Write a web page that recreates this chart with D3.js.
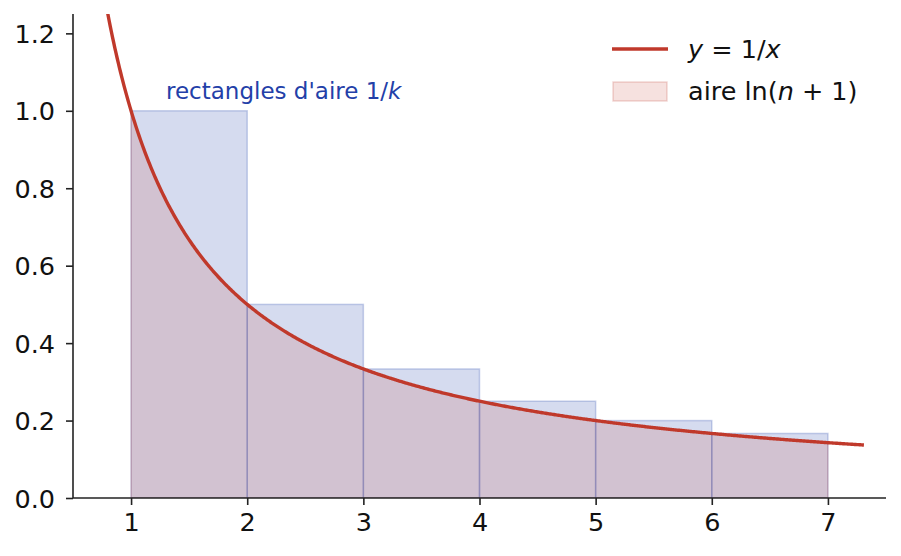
<!DOCTYPE html>
<html>
<head>
<meta charset="utf-8">
<script src="https://cdn.jsdelivr.net/npm/d3@7"></script>
<style>
  body { margin: 0; background: #fff; }
  svg text { font-family: "DejaVu Sans", sans-serif; }
  .domain, .tick line { stroke: #222; stroke-width: 1.6px; }
</style>
</head>
<body>
<svg width="901" height="556"></svg>
<script>
// bars: k = 1..6, height 1/k
const ks = [1, 2, 3, 4, 5, 6];
const heights = [1, 0.5, 0.3333, 0.25, 0.2, 0.1667];
const xTicks = [1, 2, 3, 4, 5, 6, 7];
const yTicks = [0, 0.2, 0.4, 0.6, 0.8, 1.0, 1.2];
// curve y = 1/x sampled
const curveX = d3.range(0.75, 7.3101, 0.01);
const areaX = d3.range(1, 7.0001, 0.01);

const blue = "#2d4baf", red = "#c0392b";

const margin = {left: 73, top: 14, right: 15, bottom: 58};
const svg = d3.select("svg");
const W = 901, H = 556;

const x = d3.scaleLinear().domain([0.5, 7.5]).range([margin.left, W - margin.right]);
const y = d3.scaleLinear().domain([0, 1.25]).range([H - margin.bottom, margin.top]);

svg.append("clipPath").attr("id", "clip")
  .append("rect")
    .attr("x", margin.left).attr("y", margin.top)
    .attr("width", W - margin.left - margin.right)
    .attr("height", H - margin.top - margin.bottom);

const plot = svg.append("g").attr("clip-path", "url(#clip)");

// rectangles of area 1/k
plot.selectAll("rect.bar").data(ks).enter().append("rect")
    .attr("class", "bar")
    .attr("x", d => x(d))
    .attr("y", (d, i) => y(heights[i]))
    .attr("width", d => x(d + 1) - x(d))
    .attr("height", (d, i) => y(0) - y(heights[i]))
    .attr("fill", blue).attr("fill-opacity", 0.2)
    .attr("stroke", blue).attr("stroke-opacity", 0.25).attr("stroke-width", 1.5);

// area under curve
plot.append("path")
    .datum(areaX)
    .attr("d", d3.area().x(d => x(d)).y0(y(0)).y1(d => y(1 / d)))
    .attr("fill", red).attr("fill-opacity", 0.15)
    .attr("stroke", red).attr("stroke-opacity", 0.15).attr("stroke-width", 1.5);

// curve
plot.append("path")
    .datum(curveX)
    .attr("d", d3.line().x(d => x(d)).y(d => y(1 / d)))
    .attr("fill", "none").attr("stroke", red).attr("stroke-width", 3.4);

// axes
const gx = svg.append("g")
    .attr("transform", `translate(0,${H - margin.bottom})`)
    .call(d3.axisBottom(x).tickValues(xTicks).tickSize(7).tickPadding(8).tickFormat(d3.format("d")));
const gy = svg.append("g")
    .attr("transform", `translate(${margin.left},0)`)
    .call(d3.axisLeft(y).tickValues(yTicks).tickSize(7).tickPadding(11).tickFormat(d3.format(".1f")));
gx.select(".domain").attr("d", `M${margin.left},0H${W - margin.right}`);
gy.select(".domain").attr("d", `M0,${H - margin.bottom}V${margin.top}`);
[gx, gy].forEach(g => g.attr("font-size", null).attr("font-family", null)
    .selectAll(".tick text").attr("font-size", 25.5).attr("fill", "#111"));
gy.selectAll(".tick text").attr("dy", "0.36em");

// annotation
const ann = svg.append("text")
    .attr("x", 166).attr("y", 99)
    .attr("font-size", 23).attr("fill", "#2340a8");
ann.append("tspan").text("rectangles d'aire 1/");
ann.append("tspan").attr("font-style", "italic").text("k");

// legend
const lg = svg.append("g");
lg.append("line").attr("x1", 612).attr("x2", 668).attr("y1", 49).attr("y2", 49)
    .attr("stroke", red).attr("stroke-width", 3.4);
lg.append("rect").attr("x", 613).attr("y", 82).attr("width", 54).attr("height", 19)
    .attr("fill", red).attr("fill-opacity", 0.15)
    .attr("stroke", red).attr("stroke-opacity", 0.2).attr("stroke-width", 1.5);
const t1 = lg.append("text").attr("x", 688).attr("y", 58).attr("font-size", 25.5).attr("fill", "#111");
t1.append("tspan").attr("font-style", "italic").text("y");
t1.append("tspan").text(" = 1/");
t1.append("tspan").attr("font-style", "italic").text("x");
const t2 = lg.append("text").attr("x", 688).attr("y", 100).attr("font-size", 25.5).attr("fill", "#111");
t2.append("tspan").text("aire ln(");
t2.append("tspan").attr("font-style", "italic").text("n");
t2.append("tspan").text(" + 1)");
</script>
</body>
</html>
